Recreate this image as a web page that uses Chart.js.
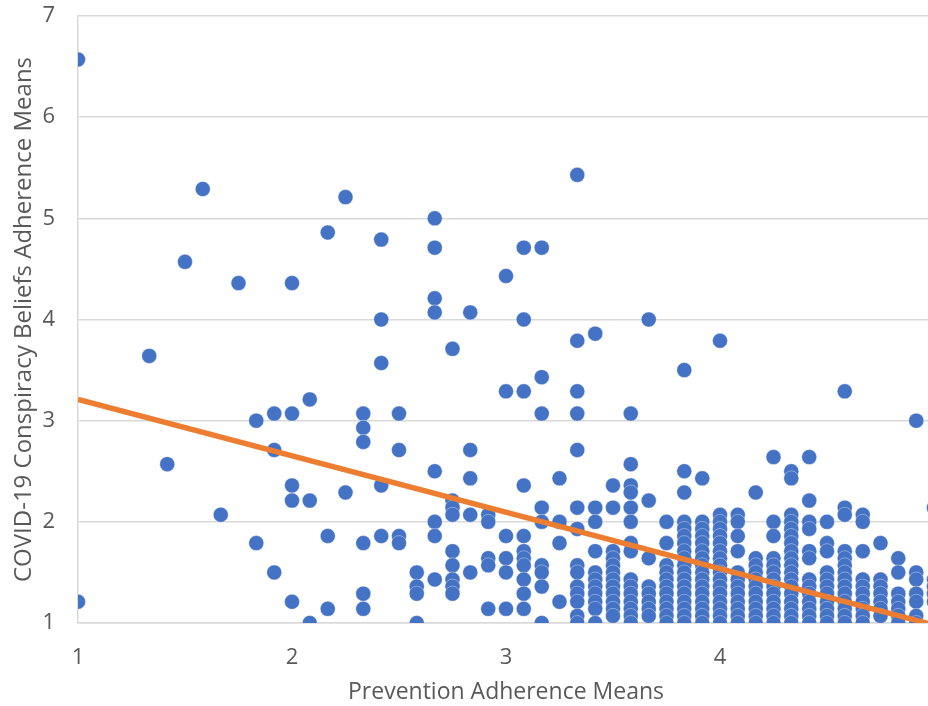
<!DOCTYPE html>
<html>
<head>
<meta charset="utf-8">
<script src="https://cdn.jsdelivr.net/npm/chart.js@4/dist/chart.umd.min.js"></script>
<style>
  html, body { margin: 0; padding: 0; background: #ffffff; overflow: hidden; }
  #wrap { position: absolute; left: 0; top: 0; width: 960px; height: 706px; }
</style>
</head>
<body>
<div id="wrap"><canvas id="c" width="960" height="706"></canvas></div>
<script>
// Prevention Adherence Means (x) for each column of responses
const preventionMeans = [
  1.000, 1.333, 1.417, 1.500, 1.583, 1.667, 1.750, 1.833, 1.917, 2.000,
  2.083, 2.167, 2.250, 2.333, 2.417, 2.500, 2.583, 2.667, 2.750, 2.833,
  2.917, 3.000, 3.083, 3.167, 3.250, 3.333, 3.417, 3.500, 3.583, 3.667,
  3.750, 3.833, 3.917, 4.000, 4.083, 4.167, 4.250, 4.333, 4.417, 4.500,
  4.583, 4.667, 4.750, 4.833, 4.917, 5.000
];
// COVID-19 Conspiracy Beliefs Adherence Means (y) observed at each x above
const conspiracyMeans = [
  [6.57, 1.21],
  [3.64],
  [2.57],
  [4.57],
  [5.29],
  [2.07],
  [4.36],
  [3.00, 1.79],
  [3.07, 2.71, 1.50],
  [4.36, 3.07, 2.36, 2.21, 1.21],
  [3.21, 2.21, 1.00],
  [4.86, 1.86, 1.14],
  [5.21, 2.29],
  [3.07, 2.93, 2.79, 1.79, 1.29, 1.14],
  [4.79, 4.00, 3.57, 2.36, 1.86],
  [3.07, 2.71, 1.86, 1.79],
  [1.50, 1.36, 1.29, 1.00],
  [5.00, 4.71, 4.21, 4.07, 2.50, 2.00, 1.86, 1.43],
  [3.71, 2.21, 2.14, 2.07, 1.71, 1.57, 1.43, 1.36, 1.29],
  [4.07, 2.71, 2.43, 2.07, 1.50],
  [2.07, 2.00, 1.64, 1.57, 1.14],
  [4.43, 3.29, 1.86, 1.64, 1.50, 1.14],
  [4.71, 4.00, 3.29, 2.36, 1.86, 1.71, 1.64, 1.57, 1.43, 1.29, 1.14],
  [4.71, 3.43, 3.07, 2.14, 2.00, 1.57, 1.50, 1.36, 1.00],
  [2.43, 2.00, 1.79, 1.21],
  [5.43, 3.79, 3.29, 3.07, 2.71, 2.14, 1.93, 1.57, 1.50, 1.36, 1.29, 1.21, 1.07, 1.00],
  [3.86, 2.14, 2.00, 1.71, 1.50, 1.43, 1.36, 1.29, 1.21, 1.14, 1.00],
  [2.36, 2.14, 1.71, 1.64, 1.57, 1.50, 1.43, 1.36, 1.29, 1.21, 1.14, 1.07],
  [3.07, 2.57, 2.36, 2.29, 2.14, 2.00, 1.79, 1.71, 1.43, 1.36, 1.29, 1.21, 1.14, 1.07, 1.00],
  [4.00, 2.21, 1.64, 1.36, 1.29, 1.21, 1.14, 1.07],
  [2.00, 1.79, 1.57, 1.50, 1.43, 1.36, 1.29, 1.21, 1.14, 1.07, 1.00],
  [3.50, 2.50, 2.29, 2.00, 1.93, 1.86, 1.79, 1.71, 1.64, 1.57, 1.50, 1.43, 1.36, 1.29, 1.21, 1.14, 1.07, 1.00],
  [2.43, 2.00, 1.93, 1.86, 1.79, 1.71, 1.64, 1.57, 1.50, 1.43, 1.36, 1.29, 1.21, 1.14, 1.07, 1.00],
  [3.79, 2.07, 2.00, 1.93, 1.86, 1.79, 1.71, 1.64, 1.57, 1.50, 1.43, 1.36, 1.29, 1.21, 1.14, 1.07, 1.00],
  [2.07, 2.00, 1.86, 1.71, 1.50, 1.43, 1.36, 1.29, 1.21, 1.14, 1.07, 1.00],
  [2.29, 1.64, 1.57, 1.50, 1.43, 1.36, 1.29, 1.21, 1.14, 1.07, 1.00],
  [2.64, 2.00, 1.86, 1.64, 1.57, 1.50, 1.43, 1.36, 1.29, 1.21, 1.14, 1.07, 1.00],
  [2.50, 2.43, 2.07, 2.00, 1.93, 1.86, 1.79, 1.71, 1.64, 1.57, 1.50, 1.43, 1.36, 1.29, 1.21, 1.14, 1.07, 1.00],
  [2.64, 2.21, 2.00, 1.93, 1.71, 1.64, 1.43, 1.36, 1.29, 1.21, 1.14, 1.07, 1.00],
  [2.00, 1.79, 1.71, 1.50, 1.43, 1.36, 1.29, 1.21, 1.14, 1.07, 1.00],
  [3.29, 2.14, 2.07, 1.71, 1.64, 1.57, 1.50, 1.43, 1.36, 1.29, 1.21, 1.14, 1.07, 1.00],
  [2.07, 2.00, 1.71, 1.43, 1.36, 1.29, 1.21, 1.14, 1.07, 1.00],
  [1.79, 1.43, 1.36, 1.29, 1.21, 1.14, 1.07],
  [1.64, 1.50, 1.29, 1.21, 1.14, 1.07, 1.00],
  [3.00, 1.50, 1.43, 1.29, 1.21, 1.07, 1.00],
  [2.14, 1.43, 1.36, 1.29, 1.21]
];
// Linear trend line (start and end)
const trendX = [1, 5];
const trendY = [3.21, 0.98];
// Axis tick values
const xTicks = [1, 2, 3, 4, 5];
const yTicks = [1, 2, 3, 4, 5, 6, 7];

const scatterPoints = [];
preventionMeans.forEach((x, i) => {
  conspiracyMeans[i].forEach(y => scatterPoints.push({ x: x, y: y }));
});
const trendPoints = trendX.map((x, i) => ({ x: x, y: trendY[i] }));

const FONT = "'Open Sans', 'Liberation Sans', sans-serif";
const TEXT = '#595959';
const GRID = '#d9d9d9';

const whiteBg = {
  id: 'whiteBg',
  beforeDraw(chart) {
    const c = chart.ctx;
    c.save();
    c.fillStyle = '#ffffff';
    c.fillRect(0, 0, chart.width, chart.height);
    c.restore();
  }
};

new Chart(document.getElementById('c'), {
  type: 'scatter',
  data: {
    datasets: [
      {
        label: 'Linear trend',
        data: trendPoints,
        showLine: true,
        borderColor: '#ED7D31',
        borderWidth: 5.5,
        pointRadius: 0,
        pointHoverRadius: 0,
        fill: false,
        order: 0
      },
      {
        label: 'Responses',
        data: scatterPoints,
        backgroundColor: '#4472C4',
        borderColor: 'rgba(255,255,255,0.45)',
        borderWidth: 0.8,
        pointRadius: 7.5,
        pointHoverRadius: 7.5,
        order: 1
      }
    ]
  },
  options: {
    responsive: false,
    animation: false,
    devicePixelRatio: 1,
    layout: { padding: { left: 0, right: 26, top: 16, bottom: 0 } },
    plugins: {
      legend: { display: false },
      tooltip: { enabled: false }
    },
    scales: {
      x: {
        type: 'linear',
        min: 1,
        max: 5,
        afterBuildTicks(axis) { axis.ticks = xTicks.map(v => ({ value: v })); },
        afterFit(axis) { axis.height = 83; axis.paddingLeft = 0; axis.paddingRight = 0; },
        grid: { display: false, drawTicks: false },
        border: { display: true, color: GRID, width: 1.5 },
        ticks: {
          color: TEXT,
          padding: 22,
          font: { family: FONT, size: 22 },
          maxRotation: 0
        },
        title: {
          display: true,
          text: 'Prevention Adherence Means',
          color: TEXT,
          font: { family: FONT, size: 23 },
          padding: { top: 0, bottom: 0 }
        }
      },
      y: {
        type: 'linear',
        min: 1,
        max: 7,
        afterBuildTicks(axis) { axis.ticks = yTicks.map(v => ({ value: v })); },
        afterFit(axis) { axis.width = 78; axis.paddingTop = 0; axis.paddingBottom = 0; },
        grid: { display: true, color: GRID, lineWidth: 1.5, drawTicks: false },
        border: { display: true, color: GRID, width: 1.5 },
        ticks: {
          color: TEXT,
          padding: 23,
          font: { family: FONT, size: 22 }
        },
        title: {
          display: true,
          text: 'COVID-19 Conspiracy Beliefs Adherence Means',
          color: TEXT,
          font: { family: FONT, size: 24 },
          padding: { top: 10, bottom: 0 }
        }
      }
    }
  },
  plugins: [whiteBg]
});
</script>
</body>
</html>
